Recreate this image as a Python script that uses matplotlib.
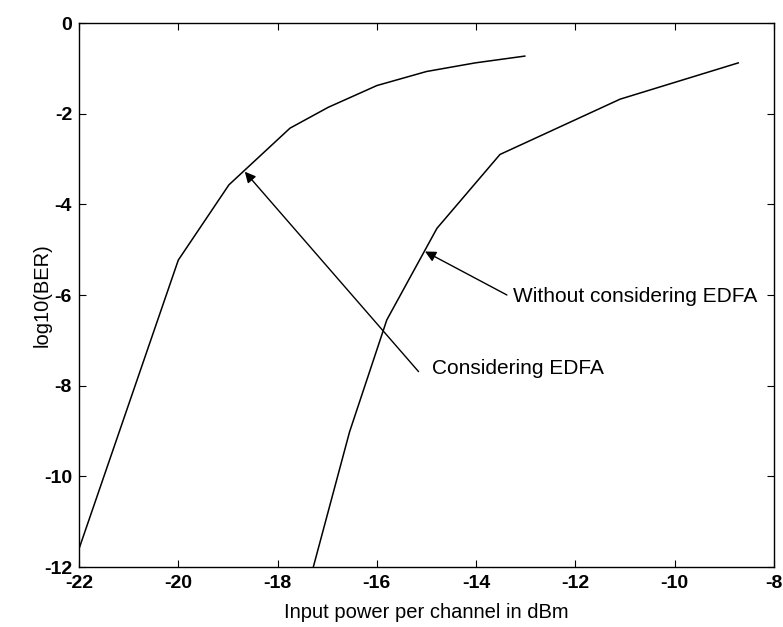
import matplotlib
matplotlib.use("Agg")
import matplotlib.pyplot as plt

plt.rcParams['font.family'] = ['Liberation Sans', 'DejaVu Sans']
plt.rcParams['axes.unicode_minus'] = False

# Considering EDFA
x_edfa = [-22.0, -20.0, -18.98, -17.75, -16.98, -16.0, -15.0, -14.02, -13.02]
y_edfa = [-11.6, -5.23, -3.57, -2.32, -1.86, -1.38, -1.07, -0.88, -0.73]

# Without considering EDFA
x_noedfa = [-17.28, -16.55, -15.8, -14.79, -13.52, -11.1, -8.72]
y_noedfa = [-12.0, -9.02, -6.55, -4.53, -2.9, -1.68, -0.88]

x_ticks = [-22, -20, -18, -16, -14, -12, -10, -8]
y_ticks = [-12, -10, -8, -6, -4, -2, 0]

W, H = 783, 627
fig = plt.figure(figsize=(W / 100, H / 100), dpi=100)
ax = fig.add_axes([79 / W, 1 - 567 / H, 695 / W, 544 / H])

ax.plot(x_edfa, y_edfa, color='black', lw=1.1)
ax.plot(x_noedfa, y_noedfa, color='black', lw=1.1)

ax.set_xlim(-22, -8)
ax.set_ylim(-12, 0)
ax.set_xticks(x_ticks)
ax.set_yticks(y_ticks)
ax.tick_params(direction='in', length=5, width=0.8, top=True, right=True,
               labelsize=14, pad=5)
ax.tick_params(axis='x', pad=6)
for lab in ax.get_xticklabels() + ax.get_yticklabels():
    lab.set_fontweight('bold')
for s in ax.spines.values():
    s.set_linewidth(1.0)

fig.text(426 / W, 1 - 612 / H, 'Input power per channel in dBm',
         fontsize=14.5, ha='center', va='center')
fig.text(42 / W, 1 - 295 / H, 'log10(BER)', fontsize=14.5, rotation=90,
         ha='center', va='center')

arrow = dict(arrowstyle='-|>', color='black', lw=1.0, mutation_scale=16,
             shrinkA=0, shrinkB=0)
ax.annotate('', xy=(-18.66, -3.28), xytext=(-15.16, -7.69), arrowprops=arrow)
ax.text(-14.89, -7.62, 'Considering EDFA', fontsize=15, va='center', ha='left')
ax.annotate('', xy=(-15.03, -5.04), xytext=(-13.38, -6.0), arrowprops=arrow)
ax.text(-13.25, -6.04, 'Without considering EDFA', fontsize=15, va='center', ha='left')

fig.savefig('out.png', dpi=100)
